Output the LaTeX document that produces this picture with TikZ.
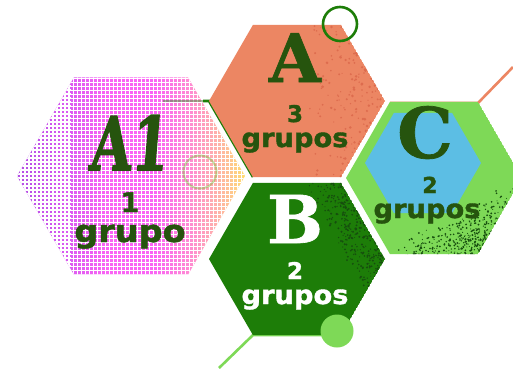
\documentclass[tikz,border=0pt]{standalone}
\usepackage{fontspec}
\setmainfont[BoldFeatures={FakeBold=1.5}]{DejaVu Sans}
\newfontfamily\letterfont[BoldFeatures={FakeBold=1}]{DejaVu Serif}
\newfontfamily\aonefont[BoldFeatures={FakeSlant=0.12,FakeBold=2}]{DejaVu Serif}
\definecolor{txtgreen}{RGB}{38,84,14}
\definecolor{dkgreen}{RGB}{29,125,8}
\definecolor{ltgreen}{RGB}{126,217,87}
\definecolor{orangeh}{RGB}{236,134,99}
\definecolor{orspeck}{RGB}{221,108,78}
\definecolor{bspeck}{RGB}{22,78,14}
\definecolor{blueh}{RGB}{92,190,228}
\definecolor{purp}{RGB}{178,78,228}
\definecolor{violet2}{RGB}{214,90,240}
\definecolor{magen}{RGB}{250,100,244}
\definecolor{pinkl}{RGB}{255,140,210}
\definecolor{peach}{RGB}{255,184,160}
\definecolor{yell}{RGB}{255,222,110}
\pgfdeclarehorizontalshading{aone}{100bp}{color(0bp)=(purp); color(25bp)=(purp); color(35bp)=(violet2); color(45bp)=(magen); color(55bp)=(magen); color(63bp)=(pinkl); color(70bp)=(peach); color(75bp)=(yell); color(100bp)=(yell)}
\newcommand\hexp[3]{({#1+#3},{#2}) -- ({#1+#3/2},{#2+0.866*#3}) -- ({#1-#3/2},{#2+0.866*#3}) -- ({#1-#3},{#2}) -- ({#1-#3/2},{#2-0.866*#3}) -- ({#1+#3/2},{#2-0.866*#3}) -- cycle}
\tikzset{
  lbl/.style={anchor=base, inner sep=0pt, outer sep=0pt, text=txtgreen},
  wlbl/.style={anchor=base, inner sep=0pt, outer sep=0pt, text=white},
}
\begin{document}
\begin{tikzpicture}[x=1pt,y=-1pt]
\useasboundingbox (0,0) rectangle (513,368);
\fill[white] (0,0) rectangle (513,368);
\pgfmathsetseed{7}

% coordinates for decorative lines
\coordinate (g1) at (163,101);
\coordinate (g2) at (209,101);
\coordinate (g3) at (253,177);
\coordinate (o1) at (390,103);
\coordinate (o2) at (478,103);
\coordinate (o3) at (513,67);
\coordinate (l1) at (219,368);
\coordinate (l2) at (253,335);
\coordinate (l3) at (341,335);

% ---------- A1 hexagon ----------
\begin{scope}
\clip \hexp{131}{176}{114};
\shade[shading=aone] \hexp{131}{176}{114};
\foreach \x in {17,21,...,249}{
  \pgfmathsetmacro\lw{max(0.65, 2.1-(\x-17)*0.02) + max(0,(\x-200)*0.006)}
  \draw[white, line width=\lw pt] (\x,70) -- (\x,282);
  \draw[white, line width=\lw pt] \foreach \y in {74,78,...,282}{(\x-2,\y) -- (\x+2,\y)};
}
\end{scope}
\draw[dkgreen!60!gray, line width=2.6pt, opacity=0.5] (g1) -- (203,101);
\draw[dkgreen, line width=2.6pt] (203,101) -- (g2) -- (g3);
\draw[ltgreen!70!olive, line width=2pt, opacity=0.45] (200,172) circle (16.5);

% ---------- A hexagon (orange) ----------
\begin{scope}
\clip \hexp{297}{101}{88};
\fill[orangeh] \hexp{297}{101}{88};
\foreach \i in {1,...,1100}{
  \pgfmathsetmacro\px{255+135*rnd}
  \pgfmathsetmacro\py{25+155*rnd}
  \pgfmathtruncatemacro\ok{((\px-255)/135 > 0.35+0.75*rnd) ? 1 : 0}
  \ifnum\ok=1 \fill[orspeck] (\px,\py) circle ({0.6+0.9*rnd}); \fi
}
\end{scope}
\draw[dkgreen, line width=2.6pt] (340,24) circle (17);

% ---------- B hexagon (dark green) ----------
\draw[ltgreen, line width=2.6pt] (l1) -- (l2) -- (l3);
\begin{scope}
\clip \hexp{297}{259}{88};
\fill[dkgreen] \hexp{297}{259}{88};
\foreach \i in {1,...,2200}{
  \pgfmathsetmacro\px{300+88*rnd}
  \pgfmathsetmacro\py{183+125*rnd}
  \pgfmathtruncatemacro\ok{((\px-300)/88 - 0.8*(\py-183)/125 > 0.0+0.6*rnd) ? 1 : 0}
  \ifnum\ok=1 \fill[bspeck] (\px,\py) circle ({0.5+0.7*rnd}); \fi
}
\end{scope}
\fill[ltgreen] (337,331) circle (16.5);

% ---------- C hexagon ----------
\draw[orangeh, line width=2.6pt] (o1) -- (o2) -- (o3);
\begin{scope}
\clip \hexp{434}{178}{88};
\fill[ltgreen] \hexp{434}{178}{88};
\fill[blueh] \hexp{423}{163}{58};
\foreach \i in {1,...,2400}{
  \pgfmathsetmacro\px{395+130*rnd}
  \pgfmathsetmacro\py{185+72*rnd}
  \pgfmathtruncatemacro\ok{(0.55*(\px-395)/130 + 0.55*(\py-185)/72 > 0.45+0.45*rnd) ? 1 : 0}
  \ifnum\ok=1 \fill[bspeck] (\px,\py) circle ({0.5+0.6*rnd}); \fi
}
\end{scope}

% ---------- texts ----------
\node[lbl] (a1t) at (128,170) {\aonefont\bfseries\fontsize{74}{74}\selectfont\scalebox{0.72}[1]{A1}};
\node[lbl] (a1n) at (130,212) {\bfseries\fontsize{27}{27}\selectfont 1};
\node[lbl] (a1g) at (130,242) {\bfseries\fontsize{31}{31}\selectfont\scalebox{1.08}[1]{grupo}};

\node[lbl] (at) at (295,82) {\letterfont\bfseries\fontsize{67}{67}\selectfont A};
\node[lbl] (an) at (295,122) {\bfseries\fontsize{23}{23}\selectfont 3};
\node[lbl] (ag) at (295,147) {\bfseries\fontsize{26}{26}\selectfont\scalebox{1.05}[1]{grupos}};

\node[wlbl] (bt) at (295,243) {\letterfont\bfseries\fontsize{66}{66}\selectfont B};
\node[wlbl] (bn) at (295,279) {\bfseries\fontsize{23}{23}\selectfont 2};
\node[wlbl] (bg) at (295,304) {\bfseries\fontsize{26}{26}\selectfont\scalebox{1.05}[1]{grupos}};

\node[lbl] (ct) at (425,158) {\letterfont\bfseries\fontsize{70}{70}\selectfont C};
\node[lbl] (cn) at (430,193) {\bfseries\fontsize{22}{22}\selectfont 2};
\node[lbl] (cg) at (427,218) {\bfseries\fontsize{26}{26}\selectfont\scalebox{1.05}[1]{grupos}};
\end{tikzpicture}
\end{document}
